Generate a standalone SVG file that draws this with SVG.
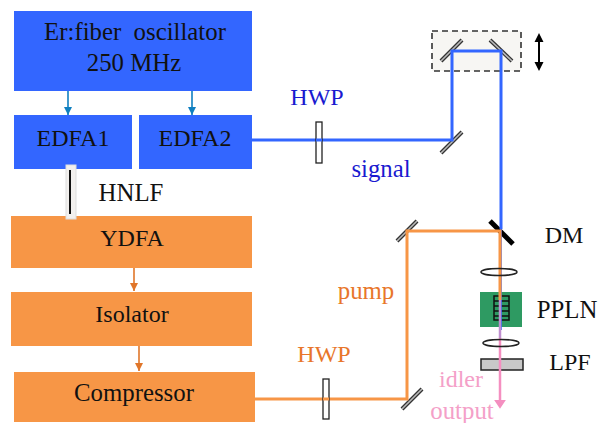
<svg xmlns="http://www.w3.org/2000/svg" width="607" height="423" viewBox="0 0 607 423">
<defs>
<marker id="ah" markerUnits="userSpaceOnUse" markerWidth="9" markerHeight="8" refX="8" refY="4" orient="auto"><path d="M0 0L8 4L0 8Z" fill="context-stroke"/></marker>
</defs>
<style>
text{font-family:"Liberation Serif","Times New Roman",serif;font-size:24px;fill:#111;text-anchor:middle}
.w{font-size:24.8px}
.b{fill:#3366ff}.o{fill:#f79646}
.bl{stroke:#3366ff;stroke-width:3;fill:none}
.ol{stroke:#f79646;stroke-width:3;fill:none}
.tb{stroke:#0f7fc0;stroke-width:1.6;fill:none;marker-end:url(#ah)}
.to{stroke:#e0762a;stroke-width:1.6;fill:none;marker-end:url(#ah)}
.m{stroke:#333;stroke-width:4;stroke-linecap:butt}
.mi{stroke:#bbb;stroke-width:1.6}
.lens{fill:none;stroke:#222;stroke-width:1.5}
</style>
<g id="oscillator"><rect class="b" x="14" y="11" width="238" height="80"/><text class="w" x="135" y="40" xml:space="preserve">Er:fiber  oscillator</text><text class="w" x="134" y="71">250 MHz</text></g>
<g id="edfa1"><rect class="b" x="14" y="115" width="118" height="54"/><text x="73" y="146">EDFA1</text></g>
<g id="edfa2"><rect class="b" x="139" y="115" width="113" height="54"/><text x="195" y="146">EDFA2</text></g>
<g id="ydfa"><rect class="o" x="11" y="216" width="241" height="52"/><text x="132" y="246">YDFA</text></g>
<g id="isolator"><rect class="o" x="11" y="292" width="241" height="54"/><text x="132" y="322">Isolator</text></g>
<g id="compressor"><rect class="o" x="14" y="372" width="241" height="50"/><text class="w" x="134" y="401">Compressor</text></g>
<g id="delay-stage"><rect x="432" y="31" width="89" height="40" fill="#f7f6f3" stroke="#333" stroke-width="1.6" stroke-dasharray="6 4"/>
<path class="m" d="M441 61L462 40"/><path class="mi" d="M441 61L462 40"/>
<path class="m" d="M490 40L512 61"/><path class="mi" d="M490 40L512 61"/>
<path d="M539 40V64" stroke="#000" stroke-width="2"/><path d="M539 33L543.5 42H534.5ZM539 71L543.5 62H534.5Z" fill="#000"/></g>
<g id="mirror-signal"><path class="m" d="M441 153L462 132"/><path class="mi" d="M441 153L462 132"/></g>
<g id="mirror-pump-top"><path class="m" d="M397 241L417 221"/><path class="mi" d="M397 241L417 221"/></g>
<g id="mirror-pump-bottom"><path class="m" d="M402 409L422 389"/><path class="mi" d="M402 409L422 389"/></g>
<g id="dm"><path d="M490 221L513 244" stroke="#000" stroke-width="5"/><text x="564" y="243">DM</text></g>
<g id="pplnbox"><rect x="480" y="292" width="42" height="35" fill="#2e9a62"/>
<rect x="494" y="296" width="15" height="24" fill="none" stroke="#111" stroke-width="1.5"/>
<path d="M494 301H509M494 306H509M494 311H509M494 316H509" stroke="#111" stroke-width="1.4"/>
<text class="w" x="567" y="318">PPLN</text></g>
<g id="lpf"><rect x="481" y="359" width="42" height="11" fill="#c8c8c8" stroke="#222" stroke-width="1.5"/><text x="570" y="370">LPF</text></g>
<g id="connectors">
<path class="tb" d="M68 91V115"/><path class="tb" d="M192 91V115"/>
<path class="to" d="M134 268V291"/><path class="to" d="M139 346V371"/>
<path class="bl" d="M252 140H452V51H501V229"/>
<path class="bl" style="stroke-width:1.6" d="M501 229V330"/>
<path class="ol" d="M255 399H407V231H500V300"/>
<path d="M500 300V338" stroke="#c08fd0" stroke-width="2.5" fill="none"/>
<path d="M500 338V405" stroke="#f48fc0" stroke-width="2.5" fill="none"/>
<path d="M496 401L504 401L500 407Z" fill="#f48fc0" stroke="#f48fc0" stroke-width="2"/>
</g>
<g id="hnlf"><rect x="66" y="165" width="10" height="54" fill="#f2f0ee" stroke="#ddd"/><path d="M70 170V214" stroke="#111" stroke-width="2"/></g>
<g id="hwp1"><rect x="316" y="122" width="6" height="41" fill="#fff" stroke="#222" stroke-width="1.3"/><path d="M316 140H322" stroke="#3366ff" stroke-width="3"/></g>
<g id="hwp2"><rect x="323" y="379" width="6" height="40" fill="#fff" stroke="#222" stroke-width="1.3"/><path d="M323 399H329" stroke="#f79646" stroke-width="3"/></g>
<g id="lens1"><ellipse class="lens" cx="499" cy="272" rx="18" ry="3.5"/></g>
<g id="lens2"><ellipse class="lens" cx="501" cy="343" rx="18" ry="3.5"/></g>
<text x="131" y="201" class="w">HNLF</text>
<text x="317" y="105" style="fill:#1a1ad0">HWP</text>
<text x="381" y="177" class="w" style="fill:#1a1ad0">signal</text>
<text x="366" y="299" class="w" style="fill:#e8762a">pump</text>
<text x="324" y="362" style="fill:#e8762a">HWP</text>
<text x="461" y="387" style="fill:#f4a0c8">idler</text>
<text x="462" y="419" class="w" style="fill:#f4a0c8">output</text>
</svg>
